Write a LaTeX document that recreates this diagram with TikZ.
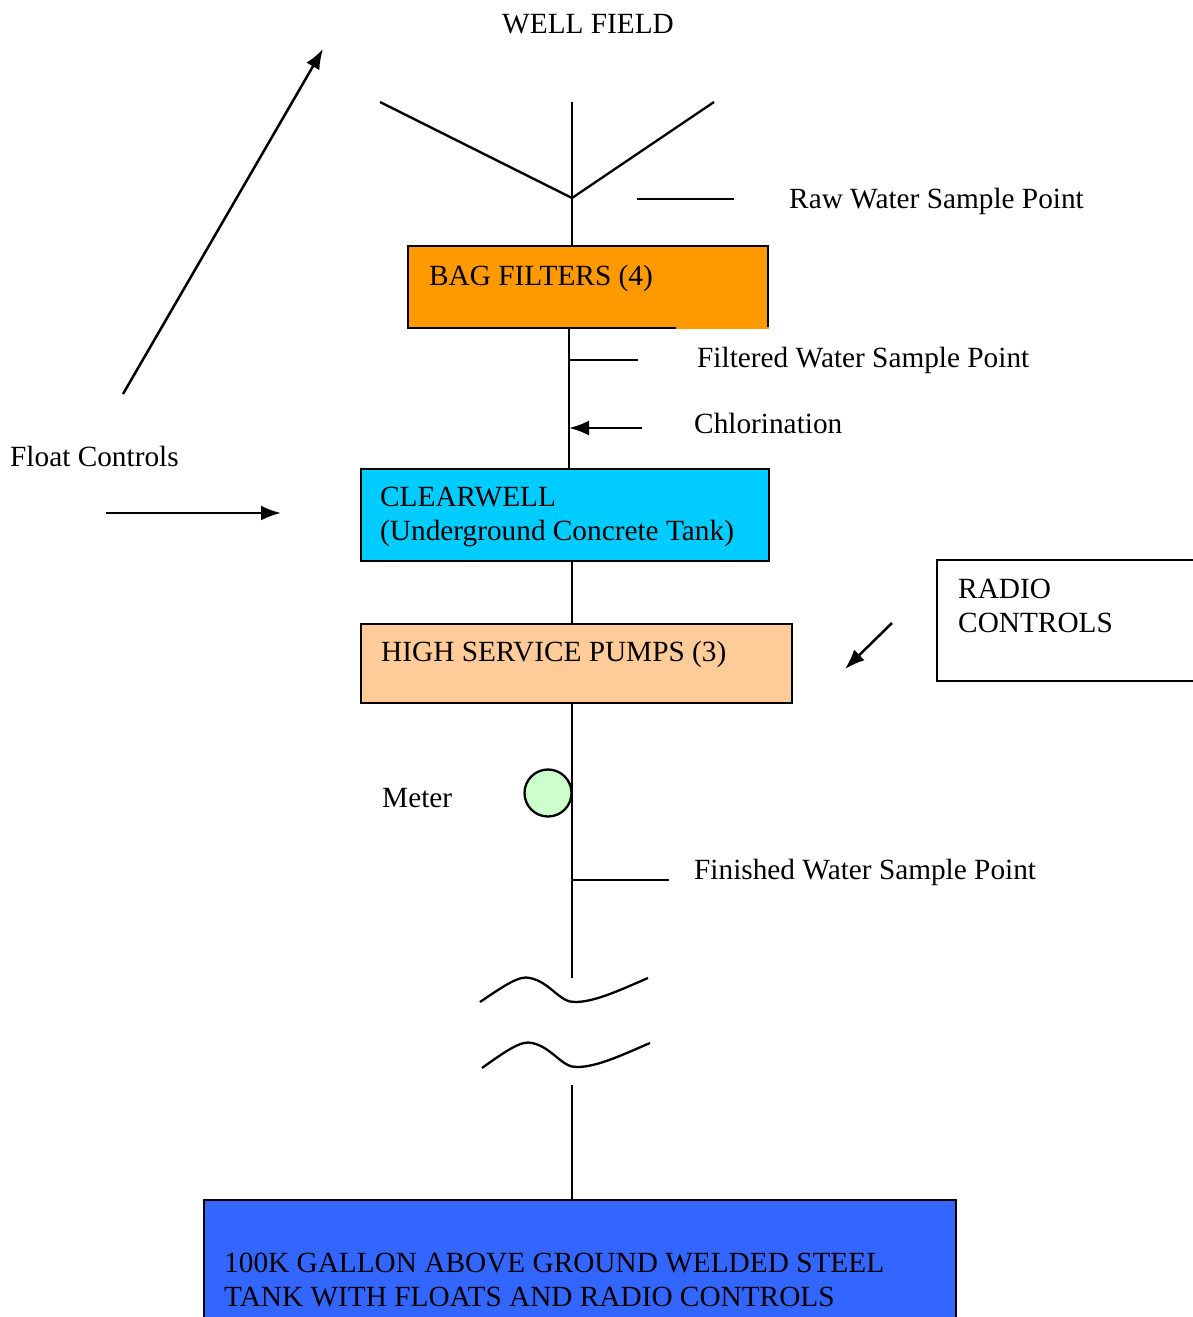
\documentclass[tikz,border=0pt]{standalone}
\usepackage{fontspec}
\setmainfont{Liberation Serif}
\usetikzlibrary{arrows.meta}
\definecolor{bagc}{HTML}{FF9900}
\definecolor{clearc}{HTML}{00CCFF}
\definecolor{pumpc}{HTML}{FFCC99}
\definecolor{meterc}{HTML}{CCFFCC}
\definecolor{tankc}{HTML}{3366FF}
\tikzset{
  pipe/.style={line width=2.3pt, black},
  box/.style={rectangle, draw=black, line width=2.3pt, inner sep=0pt, anchor=north west},
  lbl/.style={anchor=base west, inner sep=0pt, font=\fontsize{29.3}{34}\selectfont},
  arr/.style={line width=2.5pt, -{Latex[length=20pt,width=15pt]}},
}
\begin{document}
\begin{tikzpicture}[x=1pt,y=-1pt]
\useasboundingbox (0,0) rectangle (1192,1317);
% boxes
\node[box, draw=none, fill=bagc, minimum width=360, minimum height=82] (bag) at (408,246) {};
\draw[line width=2.3pt] (676,328) -- (408,328) -- (408,246) -- (768,246) -- (768,327);
\node[box, fill=clearc, minimum width=408, minimum height=92] (clear) at (360,468) {};
\node[box, fill=pumpc, minimum width=431, minimum height=79] (pump) at (360,623) {};
\draw[line width=2.3pt] (1195,560) -- (937,560) -- (937,681) -- (1195,681);
\coordinate (radio) at (937,620);
\node[box, fill=tankc, minimum width=752, minimum height=130] (tank) at (203,1199) {};
\node[circle, draw=black, line width=2.3pt, fill=meterc, minimum size=47, inner sep=0pt] (meter) at (548,793) {};
% texts
\node[lbl] (twell) at (502,33) {WELL FIELD};
\node[lbl] (traw) at (789,208) {Raw Water Sample Point};
\node[lbl] (tbag) at (429,285) {BAG FILTERS (4)};
\node[lbl] (tfilt) at (697,367) {Filtered Water Sample Point};
\node[lbl] (tchl) at (694,433) {Chlorination};
\node[lbl] (tfloat) at (10,466) {Float Controls};
\node[lbl] (tclear1) at (380,506) {CLEARWELL};
\node[lbl] (tclear2) at (380,540) {(Underground Concrete Tank)};
\node[lbl] (tradio1) at (958,598) {RADIO};
\node[lbl] (tradio2) at (958,632) {CONTROLS};
\node[lbl] (tpump) at (381,661) {HIGH SERVICE PUMPS (3)};
\node[lbl] (tmeter) at (382,807) {Meter};
\node[lbl] (tfin) at (694,879) {Finished Water Sample Point};
\node[lbl] (ttank1) at (224,1272) {100K GALLON ABOVE GROUND WELDED STEEL};
\node[lbl] (ttank2) at (224,1306) {TANK WITH FLOATS AND RADIO CONTROLS};
% well field
\coordinate (vtop) at (572,102);
\coordinate (vjoin) at (572,198);
\coordinate (vl) at (380,102);
\coordinate (vr) at (714,102);
\draw[pipe] (vl) -- (vjoin) -- (vr);
\draw[pipe] (vtop) -- (vjoin) -- (vjoin |- bag.north);
% raw sample
\coordinate (raw1) at (637,199);
\coordinate (raw2) at (734,199);
\draw[pipe] (raw1) -- (raw2);
% bag to clearwell
\coordinate (p1) at (569,328);
\draw[pipe] (p1) -- (p1 |- clear.north);
\coordinate (f1) at (569,360);
\coordinate (f2) at (638,360);
\draw[pipe] (f1) -- (f2);
\coordinate (c1) at (642,428);
\coordinate (c2) at (569,428);
\draw[arr] (c1) -- (c2);
% clearwell to pumps
\coordinate (p2) at (572,560);
\draw[pipe] (p2) -- (p2 |- pump.north);
% pumps down
\coordinate (p3) at (572,702);
\coordinate (p4) at (572,978);
\draw[pipe] (p3) -- (p4);
\coordinate (fs1) at (572,880);
\coordinate (fs2) at (669,880);
\draw[pipe] (fs1) -- (fs2);
% break symbols
\coordinate (b1s) at (480,1002);
\coordinate (b1e) at (648,978);
\draw[pipe] (b1s) .. controls (505,985) and (520,975) .. (530,978)
   .. controls (550,982) and (560,1003) .. (575,1002)
   .. controls (595,1002) and (620,990) .. (b1e);
\coordinate (b2s) at (482,1068);
\coordinate (b2e) at (650,1043);
\draw[pipe] (b2s) .. controls (507,1050) and (522,1040) .. (532,1043)
   .. controls (552,1047) and (562,1068) .. (577,1067)
   .. controls (597,1067) and (622,1055) .. (b2e);
\coordinate (p5) at (572,1085);
\draw[pipe] (p5) -- (p5 |- tank.north);
% control arrows
\coordinate (fl1) at (123,394);
\coordinate (fl2) at (323,49);
\draw[arr] (fl1) -- (fl2);
\coordinate (fl3) at (106,513);
\coordinate (fl4) at (281,513);
\draw[arr] (fl3) -- (fl4);
\coordinate (rc1) at (892,623);
\coordinate (rc2) at (845,669);
\draw[arr] (rc1) -- (rc2);
\end{tikzpicture}
\end{document}
